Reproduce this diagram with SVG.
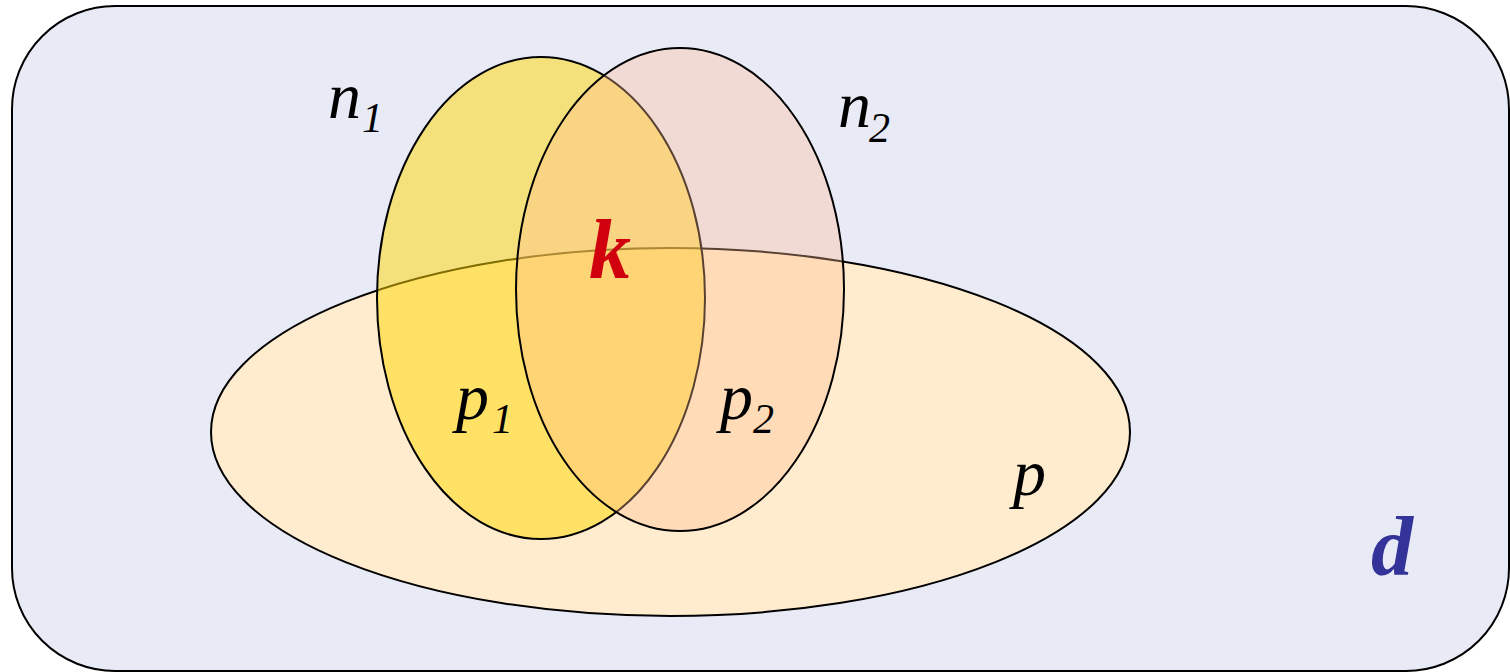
<svg xmlns="http://www.w3.org/2000/svg" width="1510" height="672" viewBox="0 0 1510 672">
  <style>
    .shape { stroke: #000; stroke-width: 2; }
    .lbl { font-family: "Liberation Serif", "Times New Roman", serif; font-style: italic; fill: #000; }
    .main { font-size: 66px; }
    .sub { font-size: 42px; }
    .bold { font-weight: bold; font-size: 84px; }
  </style>
  <rect width="1510" height="672" fill="#ffffff"/>
  <g id="d">
    <rect class="shape" x="12" y="6" width="1497" height="665" rx="103" ry="103" fill="#E8EAF6"/>
    <text class="lbl bold" x="1371" y="575" style="fill:#333399">d</text>
  </g>
  <g id="p">
    <ellipse class="shape" cx="670.5" cy="432" rx="459.5" ry="184" fill="#FFEBCD"/>
    <text class="lbl main" x="1013" y="495">p</text>
  </g>
  <g id="n1">
    <ellipse class="shape" cx="541" cy="298" rx="164" ry="241" fill="#FFD700" fill-opacity="0.5"/>
  </g>
  <g id="n2">
    <ellipse class="shape" cx="680" cy="289.5" rx="164" ry="241.5" fill="#FFBD92" fill-opacity="0.35"/>
  </g>
  <g id="labels">
    <text class="lbl main" x="328" y="118">n</text>
    <text class="lbl sub" x="362" y="132">1</text>
    <text class="lbl main" x="838" y="127">n</text>
    <text class="lbl sub" x="869" y="142">2</text>
    <text class="lbl main" x="456" y="419">p</text>
    <text class="lbl sub" x="492" y="433">1</text>
    <text class="lbl main" x="720" y="419">p</text>
    <text class="lbl sub" x="753" y="433">2</text>
    <text class="lbl bold" x="589" y="278" style="fill:#D0000F">k</text>
  </g>
  <g id="connectors"/>
</svg>
